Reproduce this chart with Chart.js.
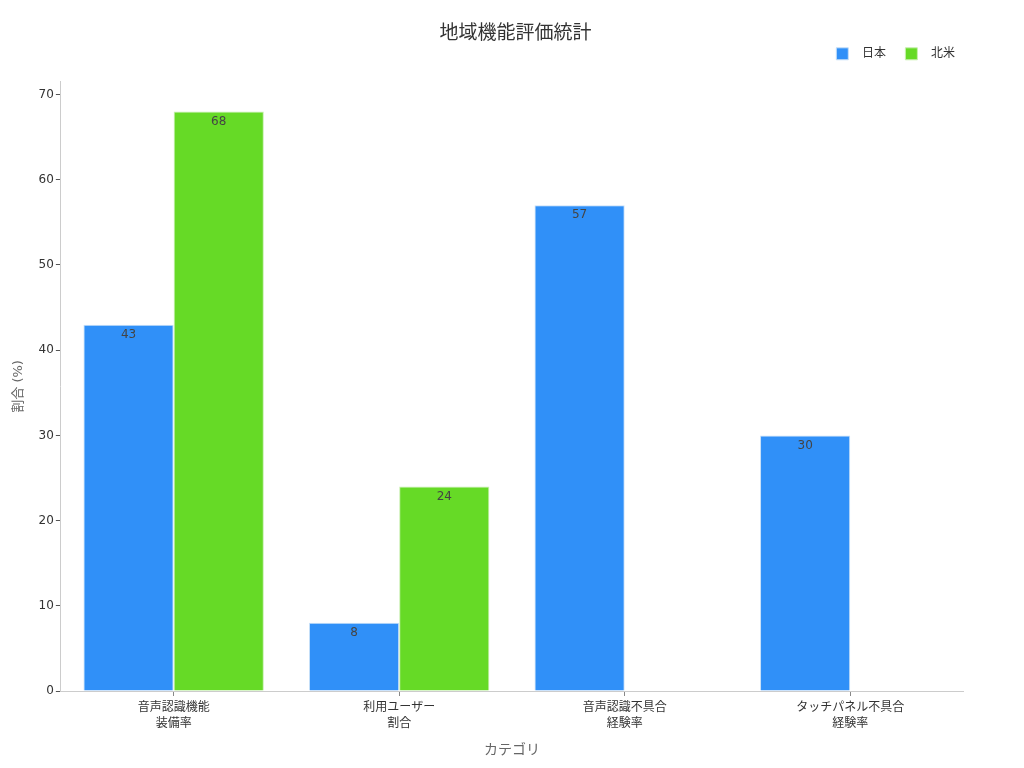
<!DOCTYPE html>
<html>
<head>
<meta charset="utf-8">
<script src="https://cdn.jsdelivr.net/npm/chart.js@4"></script>
<style>
  html, body { margin: 0; padding: 0; background: #fff; }
  #wrap { width: 1024px; height: 768px; }
</style>
</head>
<body>
<div id="wrap"><canvas id="chart"></canvas></div>
<script>
const categories = [
  ["音声認識機能", "装備率"],
  ["利用ユーザー", "割合"],
  ["音声認識不具合", "経験率"],
  ["タッチパネル不具合", "経験率"]
];
const japan = [43, 8, 57, 30];
const northAmerica = [68, 24, null, null];
const yTicks = [0, 10, 20, 30, 40, 50, 60, 70];

const FONT = "'DejaVu Sans', 'Noto Sans CJK JP', sans-serif";

// ラベルをバーの上端の内側に描く
const barLabels = {
  id: "barLabels",
  afterDatasetsDraw(chart) {
    const ctx = chart.ctx;
    ctx.save();
    ctx.font = "12px " + FONT;
    ctx.fillStyle = "#444";
    ctx.textAlign = "center";
    ctx.textBaseline = "middle";
    chart.data.datasets.forEach((ds, i) => {
      chart.getDatasetMeta(i).data.forEach((bar, j) => {
        const v = ds.data[j];
        if (v === null || v === undefined) return;
        ctx.fillText(String(v), bar.x, bar.y + 10);
      });
    });
    ctx.restore();
  }
};

const ctx = document.getElementById("chart").getContext("2d");
new Chart(ctx, {
  type: "bar",
  data: {
    labels: categories,
    datasets: [
      {
        label: "日本",
        data: japan,
        backgroundColor: "#3090f8",
        borderColor: "#c8e0f8",
        borderWidth: 1
      },
      {
        label: "北米",
        data: northAmerica,
        backgroundColor: "#66da26",
        borderColor: "#c8f0b0",
        borderWidth: 1
      }
    ]
  },
  options: {
    responsive: true,
    maintainAspectRatio: false,
    animation: false,
    layout: { padding: { left: 7, right: 0, top: 10, bottom: 5 } },
    datasets: { bar: { categoryPercentage: 0.8, barPercentage: 1.0 } },
    plugins: {
      title: {
        display: true,
        text: "地域機能評価統計",
        color: "#333",
        font: { family: FONT, size: 19, weight: "normal" },
        padding: { top: 13, bottom: -6 }
      },
      legend: {
        position: "top",
        align: "end",
        fullSize: false,
        labels: {
          color: "#333",
          font: { family: FONT, size: 12 },
          boxWidth: 12,
          boxHeight: 12,
          padding: 8,
          generateLabels(chart) {
            const items = Chart.defaults.plugins.legend.labels.generateLabels(chart);
            const last = items.length - 1;
            items.forEach((it, i) => {
              it.text = "  " + it.text + (i < last ? "   " : "");
            });
            return items;
          }
        }
      },
      tooltip: { enabled: false }
    },
    scales: {
      x: {
        grid: {
          display: true,
          offset: false,
          drawOnChartArea: false,
          drawTicks: true,
          tickLength: 5,
          tickColor: "#888"
        },
        border: { color: "#ccc" },
        ticks: {
          color: "#333",
          font: { family: FONT, size: 12, lineHeight: 1.3 },
          padding: 4
        },
        title: {
          display: true,
          text: "カテゴリ",
          color: "#666",
          font: { family: FONT, size: 14 },
          padding: { top: 7 }
        }
      },
      // 凡例と描画領域の間の余白用
      xTop: {
        type: "category",
        position: "top",
        display: true,
        grid: { display: false },
        border: { display: false },
        ticks: { display: false },
        afterFit(axis) { axis.height = 12; }
      },
      y: {
        min: 0,
        max: 71.5,
        afterBuildTicks(axis) {
          axis.ticks = yTicks.map((v) => ({ value: v }));
        },
        grid: {
          display: true,
          drawOnChartArea: false,
          drawTicks: true,
          tickLength: 5,
          tickColor: "#555"
        },
        border: { color: "#ccc" },
        ticks: { color: "#333", font: { family: FONT, size: 12 }, padding: 2 },
        title: {
          display: true,
          text: "割合 (%)",
          color: "#666",
          font: { family: FONT, size: 13 },
          padding: { bottom: 10 }
        }
      },
      // 右側の余白用の空の軸
      yRight: {
        position: "right",
        display: true,
        grid: { display: false },
        border: { display: false },
        ticks: { display: false },
        afterFit(axis) { axis.width = 61; }
      }
    }
  },
  plugins: [barLabels]
});
</script>
</body>
</html>
